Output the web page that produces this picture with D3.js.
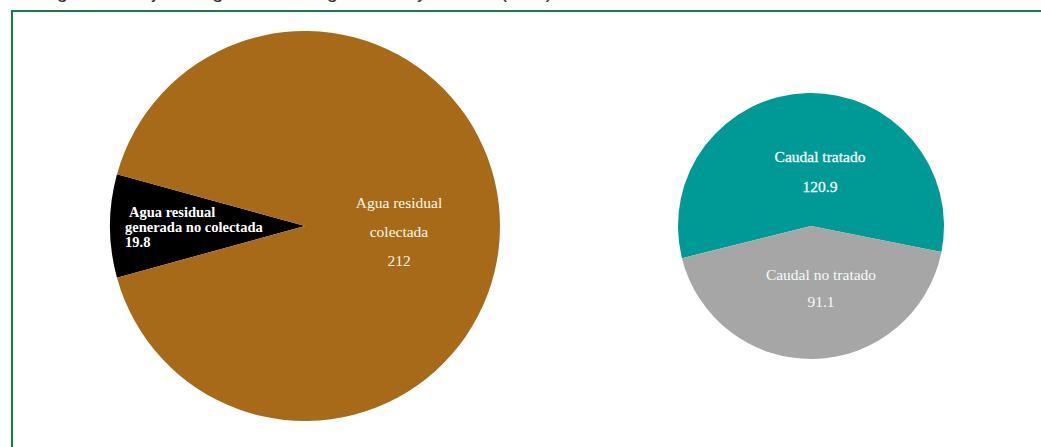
<!DOCTYPE html>
<html>
<head>
<meta charset="utf-8">
<script src="https://cdn.jsdelivr.net/npm/d3@7"></script>
<style>
  html, body { margin: 0; padding: 0; background: #fff; }
  svg { display: block; }
</style>
</head>
<body>
<svg id="chart" width="1041" height="447"></svg>
<script>
// Wastewater flows (m³/s)
const generatedLabels = ["Agua residual generada no colectada", "Agua residual colectada"];
const generatedValues = [19.8, 212];
const treatedLabels = ["Caudal tratado", "Caudal no tratado"];
const treatedValues = [120.9, 91.1];

const svg = d3.select("#chart");
const W = 1041, H = 447;

// Figure caption, running off the top edge
svg.append("text")
  .attr("x", 40).attr("y", -2)
  .attr("font-family", "Liberation Sans, Arial, sans-serif")
  .attr("font-size", 20)
  .attr("fill", "#333")
  .text("Figura 1. Flujo de agua residual generada y tratada (m³/s)");

// Frame
svg.append("path")
  .attr("d", `M12,${H + 5}V11H${W + 5}`)
  .attr("fill", "none")
  .attr("stroke", "#1f7a52")
  .attr("stroke-width", 2.2);

const serif = "Liberation Serif, DejaVu Serif, serif";

// ---- Left pie: generated wastewater ----
const bigColors = d3.scaleOrdinal().domain(generatedLabels).range(["#000000", "#a66a19"]);
const total1 = d3.sum(generatedValues);
const span0 = 2 * Math.PI * generatedValues[0] / total1;
const pie1 = d3.pie().sort(null).value(d => d.v)
  .startAngle(-Math.PI / 2 - span0 / 2)
  .endAngle(-Math.PI / 2 - span0 / 2 + 2 * Math.PI);
const data1 = generatedLabels.map((k, i) => ({ k, v: generatedValues[i] }));
const arc1 = d3.arc().innerRadius(0).outerRadius(195);
const g1 = svg.append("g").attr("transform", "translate(305,226)");
g1.selectAll("path").data(pie1(data1)).join("path")
  .attr("d", arc1)
  .attr("fill", d => bigColors(d.data.k));

// Label inside the small black wedge
const blackLbl = svg.append("text")
  .attr("font-family", serif).attr("font-size", 14.5).attr("font-weight", "bold")
  .attr("fill", "#fff");
blackLbl.append("tspan").attr("x", 129).attr("y", 217).text("Agua residual");
blackLbl.append("tspan").attr("x", 125).attr("y", 232).text("generada no colectada");
blackLbl.append("tspan").attr("x", 125).attr("y", 247).text(d3.format(".1f")(generatedValues[0]));

// Label for the collected share
const brownLbl = svg.append("text")
  .attr("font-family", serif).attr("font-size", 15.5)
  .attr("fill", "#fff8ec").attr("text-anchor", "middle");
brownLbl.append("tspan").attr("x", 399).attr("y", 208).text("Agua residual");
brownLbl.append("tspan").attr("x", 399).attr("y", 237).text("colectada");
brownLbl.append("tspan").attr("x", 399).attr("y", 266).text(d3.format("d")(generatedValues[1]));

// ---- Right pie: collected wastewater by treatment ----
const smallColors = d3.scaleOrdinal().domain(treatedLabels).range(["#009a96", "#a6a6a6"]);
const start2 = -104 * Math.PI / 180;
const pie2 = d3.pie().sort(null).value(d => d.v)
  .startAngle(start2).endAngle(start2 + 2 * Math.PI);
const data2 = treatedLabels.map((k, i) => ({ k, v: treatedValues[i] }));
const arc2 = d3.arc().innerRadius(0).outerRadius(133);
const g2 = svg.append("g").attr("transform", "translate(811,226)");
g2.selectAll("path").data(pie2(data2)).join("path")
  .attr("d", arc2)
  .attr("fill", d => smallColors(d.data.k));

const labelPos = [[820, 162, 192], [821, 280, 307]];
treatedLabels.forEach((k, i) => {
  const t = svg.append("text")
    .attr("font-family", serif).attr("font-size", 15.5)
    .attr("fill", "#f4fbfa").attr("text-anchor", "middle")
    .attr("stroke", i === 0 ? "#f4fbfa" : "none").attr("stroke-width", 0.3);
  t.append("tspan").attr("x", labelPos[i][0]).attr("y", labelPos[i][1]).text(k);
  t.append("tspan").attr("x", labelPos[i][0]).attr("y", labelPos[i][2]).text(d3.format(".1f")(treatedValues[i]));
});
</script>
</body>
</html>
